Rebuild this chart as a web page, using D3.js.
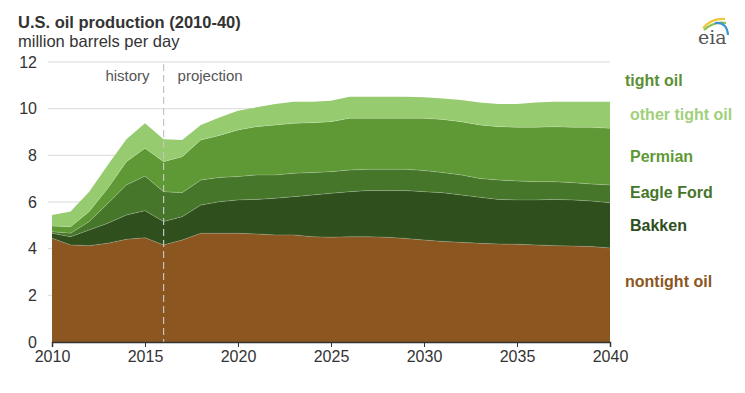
<!doctype html>
<html>
<head>
  <meta charset="utf-8">
  <style>
    body { margin: 0; background: #fff; }
    svg { display: block; font-family: Arial, "Liberation Sans", sans-serif; }
  </style>
  <script src="https://cdn.jsdelivr.net/npm/d3@7"></script>
</head>
<body>
  <script>
  // years 2010-2040
  var years = d3.range(2010, 2041);

  // million barrels per day
  var nontight = [4.45, 4.16, 4.13, 4.23, 4.40, 4.47, 4.16, 4.37, 4.66, 4.66, 4.66,
                  4.63, 4.59, 4.59, 4.51, 4.49, 4.51, 4.51, 4.49, 4.44, 4.37,
                  4.31, 4.27, 4.23, 4.20, 4.19, 4.16, 4.13, 4.11, 4.09, 4.03];
  var bakken = [0.21, 0.35, 0.67, 0.86, 1.04, 1.16, 1.00, 1.00, 1.21, 1.35, 1.43,
                1.48, 1.57, 1.64, 1.79, 1.88, 1.93, 1.98, 2.00, 2.05, 2.07,
                2.09, 2.03, 1.97, 1.91, 1.90, 1.93, 1.98, 1.98, 1.95, 1.94];
  var eagleFord = [0.07, 0.15, 0.36, 0.85, 1.29, 1.48, 1.28, 1.03, 1.07, 1.04, 1.00,
                   1.05, 1.00, 1.00, 0.96, 0.93, 0.93, 0.91, 0.91, 0.91, 0.91,
                   0.86, 0.86, 0.81, 0.83, 0.81, 0.78, 0.76, 0.74, 0.73, 0.76];
  var permian = [0.24, 0.28, 0.43, 0.65, 1.00, 1.19, 1.29, 1.54, 1.72, 1.80, 2.00,
                 2.07, 2.14, 2.14, 2.14, 2.14, 2.22, 2.19, 2.19, 2.19, 2.24,
                 2.28, 2.28, 2.29, 2.29, 2.30, 2.33, 2.36, 2.37, 2.43, 2.43];
  var otherTight = [0.47, 0.65, 0.85, 1.00, 0.96, 1.07, 0.96, 0.72, 0.64, 0.77, 0.82,
                    0.83, 0.90, 0.93, 0.90, 0.90, 0.92, 0.92, 0.92, 0.92, 0.90,
                    0.90, 0.93, 0.96, 0.97, 1.00, 1.06, 1.07, 1.10, 1.10, 1.14];

  var seriesKeys = ["nontight", "bakken", "eagleFord", "permian", "otherTight"];
  var seriesColors = ["#8b5620", "#2f4f1d", "#46762a", "#5f9936", "#96cb6f"];
  var yTicks = [0, 2, 4, 6, 8, 10, 12];
  var xTicks = [2010, 2015, 2020, 2025, 2030, 2035, 2040];
  var splitYear = 2016;

  var legend = [
    {label: "tight oil", color: "#5b8f33", x: 625, y: 86},
    {label: "other tight oil", color: "#9fd07c", x: 630, y: 120},
    {label: "Permian", color: "#5f9936", x: 630, y: 162},
    {label: "Eagle Ford", color: "#46762a", x: 630, y: 198},
    {label: "Bakken", color: "#2f4f1d", x: 630, y: 231},
    {label: "nontight oil", color: "#8b5620", x: 625, y: 287}
  ];

  var rows = years.map(function(yr, i) {
    return {year: yr, nontight: nontight[i], bakken: bakken[i], eagleFord: eagleFord[i],
            permian: permian[i], otherTight: otherTight[i]};
  });

  var W = 745, H = 393;
  var plotL = 52, plotR = 610, plotT = 62, plotB = 342;

  var svg = d3.select("body").append("svg")
    .attr("width", W)
    .attr("height", H);

  var x = d3.scaleLinear().domain([2010, 2040]).range([plotL, plotR]);
  var y = d3.scaleLinear().domain([0, 12]).range([plotB, plotT]);

  // gridlines
  svg.append("g").selectAll("line")
    .data(yTicks.filter(function(d) { return d > 0; }))
    .enter().append("line")
    .attr("x1", plotL - 4).attr("x2", plotR)
    .attr("y1", function(d) { return y(d); })
    .attr("y2", function(d) { return y(d); })
    .attr("stroke", "#d9d9d9")
    .attr("stroke-width", 1);

  // stacked areas
  var stack = d3.stack().keys(seriesKeys);
  var layers = stack(rows);

  var area = d3.area()
    .x(function(d) { return x(d.data.year); })
    .y0(function(d) { return y(d[0]); })
    .y1(function(d) { return y(d[1]); });

  svg.append("g").selectAll("path")
    .data(layers)
    .enter().append("path")
    .attr("d", area)
    .attr("fill", function(d, i) { return seriesColors[i]; });

  // faint light edge on top of each layer
  var edge = d3.line()
    .x(function(d) { return x(d.data.year); })
    .y(function(d) { return y(d[1]); });

  svg.append("g").selectAll("path")
    .data(layers.slice(0, 4))
    .enter().append("path")
    .attr("d", edge)
    .attr("fill", "none")
    .attr("stroke", "rgba(255,255,255,0.25)")
    .attr("stroke-width", 0.8);

  // history / projection divider
  svg.append("line")
    .attr("x1", x(splitYear)).attr("x2", x(splitYear))
    .attr("y1", y(12) + 2).attr("y2", plotB)
    .attr("stroke", "#c4c4c4")
    .attr("stroke-width", 1.2)
    .attr("stroke-dasharray", "7,4");

  svg.append("text")
    .attr("x", x(splitYear) - 14).attr("y", 81)
    .attr("text-anchor", "end")
    .attr("font-size", "15px")
    .attr("fill", "#555")
    .text("history");

  svg.append("text")
    .attr("x", x(splitYear) + 14).attr("y", 81)
    .attr("font-size", "15px")
    .attr("fill", "#555")
    .text("projection");

  // x axis
  var xAxis = svg.append("g")
    .attr("transform", "translate(0," + plotB + ")")
    .call(d3.axisBottom(x).tickValues(xTicks).tickFormat(d3.format("d")).tickSize(5).tickPadding(4));
  xAxis.select(".domain").attr("stroke", "#333").attr("stroke-width", 1.5);
  xAxis.selectAll(".tick line").attr("stroke", "#333");
  xAxis.selectAll("text").attr("font-size", "16px").attr("fill", "#333")
    .attr("font-family", "Arial, 'Liberation Sans', sans-serif");

  // y labels
  svg.append("g").selectAll("text")
    .data(yTicks)
    .enter().append("text")
    .attr("x", 37)
    .attr("y", function(d) { return y(d); })
    .attr("dy", "0.35em")
    .attr("text-anchor", "end")
    .attr("font-size", "16px")
    .attr("fill", "#333")
    .text(function(d) { return d; });

  // titles
  svg.append("text")
    .attr("x", 18).attr("y", 28)
    .attr("font-size", "16.5px")
    .attr("font-weight", "bold")
    .attr("fill", "#333")
    .text("U.S. oil production (2010-40)");

  svg.append("text")
    .attr("x", 18).attr("y", 47)
    .attr("font-size", "16.5px")
    .attr("fill", "#333")
    .text("million barrels per day");

  // legend labels
  svg.append("g").selectAll("text")
    .data(legend)
    .enter().append("text")
    .attr("x", function(d) { return d.x; })
    .attr("y", function(d) { return d.y; })
    .attr("font-size", "16px")
    .attr("font-weight", "bold")
    .attr("fill", function(d) { return d.color; })
    .text(function(d) { return d.label; });

  // eia logo
  var logo = svg.append("g").attr("transform", "translate(698,44)");
  logo.append("path").attr("d", "M5,-16 Q14,-26 27,-25").attr("fill", "none")
    .attr("stroke", "#f0c63a").attr("stroke-width", 2.2);
  logo.append("path").attr("d", "M6,-14 Q16,-23 28,-21").attr("fill", "none")
    .attr("stroke", "#86c057").attr("stroke-width", 2.2);
  logo.append("path").attr("d", "M17,-21 Q29,-22 30,-9").attr("fill", "none")
    .attr("stroke", "#3b93cf").attr("stroke-width", 2.2);
  logo.append("text")
    .attr("x", 0).attr("y", 0)
    .attr("font-family", "'DejaVu Serif', 'Liberation Serif', serif")
    .attr("font-size", "19px")
    .attr("fill", "#555")
    .text("eia");
  </script>
</body>
</html>
